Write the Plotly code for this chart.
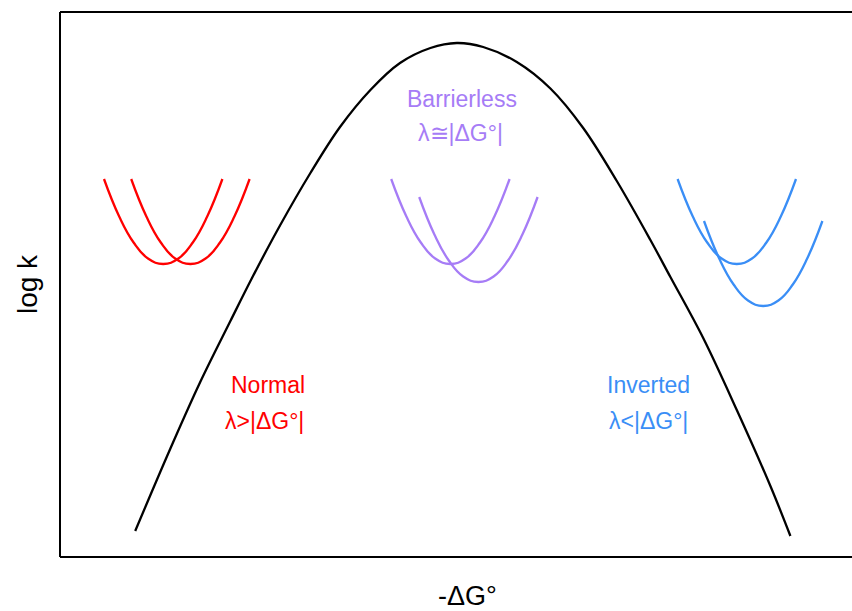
import plotly.graph_objects as go

# Marcus curve (x: -ΔG°, y: log k), arbitrary units
marcus_x = [0.94, 1.38, 1.75, 2.13, 2.40, 2.75, 3.13, 3.50, 3.88, 4.25, 4.63, 4.96,
            5.29, 5.71, 6.13, 6.54, 6.96, 7.38, 7.63, 8.04, 8.46, 8.88, 9.13]
marcus_y = [0.52, 2.17, 3.49, 4.72, 5.58, 6.63, 7.68, 8.60, 9.34, 9.88, 10.18, 10.28,
            10.20, 9.90, 9.37, 8.58, 7.52, 6.34, 5.60, 4.38, 2.94, 1.42, 0.42]

# Inset energy parabolas
red1_x = [0.55, 0.74, 0.92, 1.10, 1.29, 1.48, 1.66, 1.84, 2.03]
red1_y = [7.56, 6.81, 6.29, 5.97, 5.86, 5.97, 6.29, 6.81, 7.56]
red2_x = [0.89, 1.08, 1.26, 1.44, 1.63, 1.82, 2.00, 2.18, 2.37]
red2_y = [7.56, 6.81, 6.29, 5.97, 5.86, 5.97, 6.29, 6.81, 7.56]

pur1_x = [4.14, 4.33, 4.51, 4.69, 4.88, 5.07, 5.25, 5.43, 5.62]
pur1_y = [7.56, 6.81, 6.29, 5.97, 5.86, 5.97, 6.29, 6.81, 7.56]
pur2_x = [4.49, 4.68, 4.86, 5.04, 5.23, 5.42, 5.60, 5.78, 5.97]
pur2_y = [7.20, 6.45, 5.93, 5.61, 5.50, 5.61, 5.93, 6.45, 7.20]

blu1_x = [7.72, 7.91, 8.09, 8.27, 8.46, 8.65, 8.83, 9.01, 9.20]
blu1_y = [7.56, 6.81, 6.29, 5.97, 5.86, 5.97, 6.29, 6.81, 7.56]
blu2_x = [8.05, 8.24, 8.42, 8.60, 8.79, 8.98, 9.16, 9.34, 9.53]
blu2_y = [6.72, 5.97, 5.45, 5.13, 5.02, 5.13, 5.45, 5.97, 6.72]

RED = "#ff0000"
PURPLE = "#a67cf6"
BLUE = "#3a8ef6"
FONT = "Liberation Sans, Arial, Helvetica, sans-serif"

labels = [
    ("Barrierless", 5.03, 9.16, PURPLE),
    ("λ≅|ΔG°|", 5.00, 8.48, PURPLE),
    ("Normal", 2.60, 3.44, RED),
    ("λ>|ΔG°|", 2.56, 2.72, RED),
    ("Inverted", 7.35, 3.44, BLUE),
    ("λ<|ΔG°|", 7.35, 2.72, BLUE),
]

fig = go.Figure()


def add_curve(x, y, color, smoothing):
    fig.add_trace(go.Scatter(x=x, y=y, mode="lines",
                             line=dict(color=color, width=2.3, shape="spline", smoothing=smoothing),
                             hoverinfo="skip", showlegend=False))


add_curve(marcus_x, marcus_y, "black", 1.0)
add_curve(red1_x, red1_y, RED, 1.3)
add_curve(red2_x, red2_y, RED, 1.3)
add_curve(pur1_x, pur1_y, PURPLE, 1.3)
add_curve(pur2_x, pur2_y, PURPLE, 1.3)
add_curve(blu1_x, blu1_y, BLUE, 1.3)
add_curve(blu2_x, blu2_y, BLUE, 1.3)

for text, x, y, c in labels:
    fig.add_annotation(x=x, y=y, text=text, showarrow=False,
                       font=dict(family=FONT, size=23, color=c),
                       xanchor="center", yanchor="middle")

# axis titles
fig.add_annotation(xref="paper", yref="paper", x=0.514, y=-0.072, text="-ΔG°",
                   showarrow=False, font=dict(family=FONT, size=27, color="black"),
                   xanchor="center", yanchor="middle")
fig.add_annotation(xref="paper", yref="paper", x=-0.041, y=0.5, text="log k",
                   showarrow=False, textangle=-90,
                   font=dict(family=FONT, size=28, color="black"),
                   xanchor="center", yanchor="middle")

# frame (left, bottom, top)
for x0, y0, x1, y1 in [(0, 0, 0, 1), (0, 0, 1, 0), (0, 1, 1, 1)]:
    fig.add_shape(type="line", xref="paper", yref="paper", x0=x0, y0=y0, x1=x1, y1=y1,
                  line=dict(color="black", width=2))

fig.update_xaxes(range=[0, 9.9], visible=False, fixedrange=True)
fig.update_yaxes(range=[0, 10.9], visible=False, fixedrange=True)
fig.update_layout(width=852, height=611,
                  margin=dict(l=60, r=0, t=12, b=54),
                  plot_bgcolor="white", paper_bgcolor="white",
                  showlegend=False)

fig.write_html("out.html")
